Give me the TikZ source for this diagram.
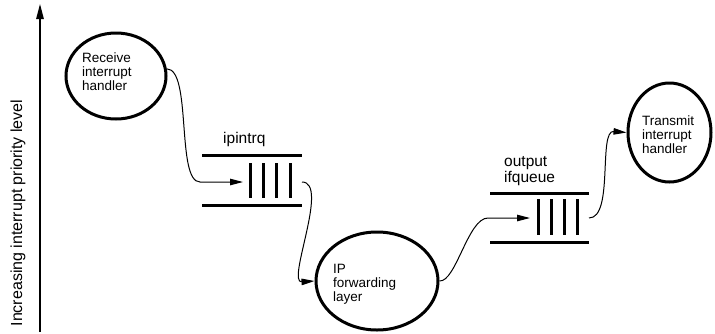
\documentclass[tikz,border=0pt]{standalone}
\usepackage{fontspec}
\setmainfont{Liberation Sans}
\usetikzlibrary{shapes.geometric,arrows.meta}
\begin{document}
\begin{tikzpicture}[x=1pt,y=-1pt,
  proc/.style={draw, ellipse, line width=3pt, inner sep=0pt},
  txt/.style={anchor=north west, inner sep=0pt, align=left, font=\fontsize{13.5}{14}\selectfont},
  qlabel/.style={anchor=north west, inner sep=0pt, align=left, font=\fontsize{15.5}{16}\selectfont},
  qline/.style={line width=3pt},
  qbar/.style={line width=3pt},
  conn/.style={line width=1pt},
  tip/.style={-{Triangle[length=13pt,width=6.5pt]}}
]
\useasboundingbox (0,0) rectangle (715,333);

% axis
\coordinate (axb) at (40,332);
\coordinate (axt) at (40,4);
\draw[line width=1.3pt, -{Triangle[length=15pt,width=7.5pt]}] (axb) -- (axt);
\node[rotate=90, inner sep=0pt, font=\fontsize{16}{16}\selectfont] (axl) at (18,213) {Increasing interrupt priority level};

% processes
\node[proc, minimum width=100pt, minimum height=86pt] (rc) at (116,76) {};
\node[txt] (rct) at (82,52.5) {Receive\\interrupt\\handler};

\node[proc, minimum width=122pt, minimum height=98pt] (ip) at (377,281) {};
\node[txt] (ipt) at (333,264.5) {IP\\forwarding\\layer};

\node[proc, minimum width=83pt, minimum height=99pt] (tc) at (669.5,132.5) {};
\node[txt] (tct) at (642,116) {Transmit\\interrupt\\handler};

% queue 1
\node[qlabel] (q1l) at (223,132) {ipintrq};
\draw[qline] (202,155) -- (302,155);
\draw[qline] (202,205) -- (302,205);
\foreach \x in {250,263,276,290} \draw[qbar] (\x,163) -- (\x,198);
\coordinate (q1in) at (200,182);
\coordinate (q1tip) at (243,182);
\coordinate (q1out) at (302,182);

% queue 2
\node[qlabel] (q2l) at (504,156) {output\\ifqueue};
\draw[qline] (490,193) -- (589,193);
\draw[qline] (490,242) -- (589,242);
\foreach \x in {538,551,564,577} \draw[qbar] (\x,199) -- (\x,235);
\coordinate (q2in) at (488,218);
\coordinate (q2tip) at (530,218);
\coordinate (q2out) at (589,218);

% connectors
\draw[conn, tip] (rc.8) .. controls (192,69) and (176,182) .. (q1in) -- (q1tip);
\draw[conn, tip] (q1out) .. controls (330,182) and (286,283) .. (ip.west);
\draw[conn, tip] (ip.east) .. controls (456,282) and (468,218) .. (q2in) -- (q2tip);
\draw[conn, tip] (q2out) .. controls (614,218) and (598,130) .. (tc.west);
\end{tikzpicture}
\end{document}
